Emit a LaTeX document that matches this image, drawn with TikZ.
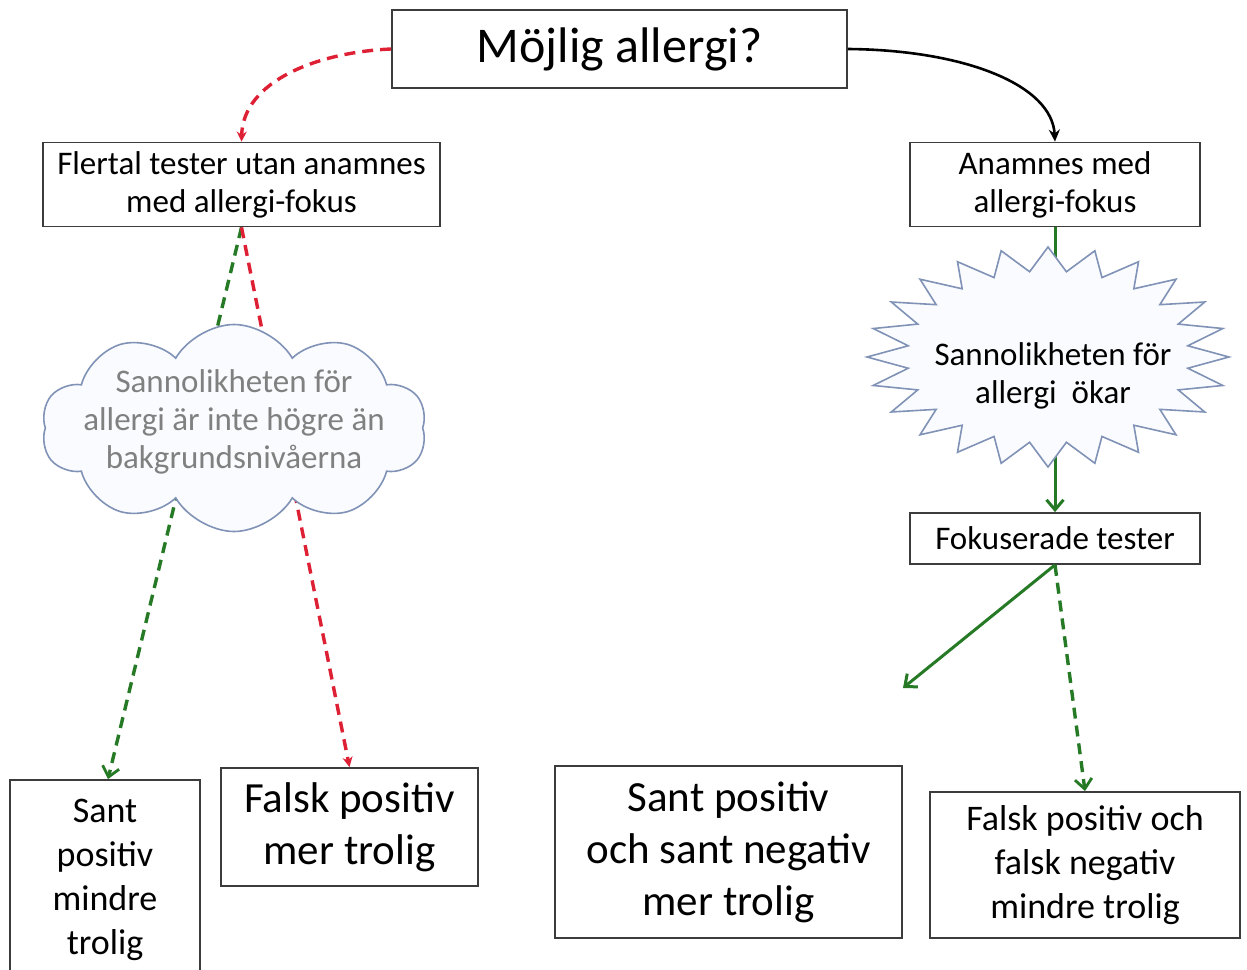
\documentclass[tikz,border=0pt]{standalone}
\usepackage{fontspec}
\setmainfont{Carlito}
\usetikzlibrary{arrows.meta,shapes.symbols}
\definecolor{myred}{RGB}{222,32,52}
\definecolor{mygreen}{RGB}{38,122,38}
\definecolor{edgeblue}{RGB}{128,146,182}
\definecolor{boxline}{RGB}{60,60,60}
\definecolor{cloudtext}{RGB}{128,128,128}
\definecolor{cloudfill}{RGB}{250,251,254}
\begin{document}
\begin{tikzpicture}[x=1pt,y=-1pt,
  box/.style={draw=boxline, line width=1.8pt, fill=white, align=center, inner sep=0pt},
  fA/.style={font=\fontsize{33}{38}\selectfont},
  fB/.style={font=\fontsize{36}{44}\selectfont},
  fC/.style={font=\fontsize{43}{52}\selectfont},
  fT/.style={font=\fontsize{50}{60}\selectfont},
  reddash/.style={draw=myred, line width=3.4pt, dash pattern=on 11pt off 7pt, -{Stealth[length=10pt,width=10pt]}},
  greendash/.style={draw=mygreen, line width=3.4pt, dash pattern=on 11pt off 7pt, -{Straight Barb[length=10pt,width=17pt,line width=2.8pt]}},
  greenline/.style={draw=mygreen, line width=3pt},
  greenarrow/.style={greenline, -{Straight Barb[length=10pt,width=17pt]}},
  blackarrow/.style={draw=black, line width=2.6pt, -{Stealth[length=12pt,width=11pt]}},
  shapeedge/.style={draw=edgeblue, line width=1.6pt, fill=cloudfill}
]
\useasboundingbox (0,0) rectangle (1247,969);
\clip (0,0) rectangle (1247,969);
\fill[white] (0,0) rectangle (1247,969);

% boxes
\node[box, fT, minimum width=455pt, minimum height=78pt] (top) at (619.5,49) {Möjlig allergi?};
\node[box, fA, minimum width=397pt, minimum height=84pt] (left) at (241.5,184.5) {Flertal tester utan anamnes\\med allergi-fokus};
\node[box, fA, minimum width=290pt, minimum height=84pt] (anam) at (1055,184.5) {Anamnes med\\allergi-fokus};
\node[box, fA, minimum width=290pt, minimum height=51pt] (fokus) at (1055,538.5) {Fokuserade tester};
\node[box, fB, minimum width=190pt, minimum height=200pt] (sp) at (105,880) {Sant\\positiv\\mindre\\trolig};
\node[box, fC, minimum width=257pt, minimum height=118pt] (fp) at (349.5,827) {Falsk positiv\\mer trolig};
\node[box, fC, minimum width=347pt, minimum height=172pt] (spsn) at (728.5,852) {Sant positiv\\och sant negativ\\mer trolig};
\node[box, fB, minimum width=310pt, minimum height=146pt] (fpfn) at (1085,865) {Falsk positiv och\\falsk negativ\\mindre trolig};

\coordinate (burstc) at (1048,357);
\coordinate (freeend) at (903,688);

% connectors
\draw[reddash] (top.west) .. controls (320,52) and (243,80) .. (left.north);
\draw[blackarrow] (top.east) .. controls (965,50) and (1052,85) .. (anam.north);
\draw[greendash] (left.south) -- (sp.north -| 108,0);
\draw[reddash] (left.south) -- (fp.north);
\draw[greenline] (anam.south) -- (anam.south |- burstc);
\draw[greenarrow] (anam.south |- burstc) -- (fokus.north);
\draw[greenarrow] (fokus.south) -- (freeend);
\draw[greendash] (fokus.south) -- (fpfn.north);

% cloud
\node[cloud, cloud puffs=10, cloud puff arc=120, cloud ignores aspect, minimum width=385pt, minimum height=207pt, shapeedge] (cloud) at (234,428) {};
\node[fA, text=cloudtext, align=center] (cloudtext) at (234,422) {Sannolikheten för\\allergi är inte högre än\\bakgrundsnivåerna};

% starburst
\draw[shapeedge, shift={(burstc)}] (0:181 and 110)
  \foreach \i in {0,...,23} { -- ({\i*15+7.5}:141 and 86) -- ({\i*15+15}:181 and 110) } -- cycle;
\node[fA, align=center] (bursttext) at (1053,376) {Sannolikheten för\\allergi~ ökar};
\end{tikzpicture}
\end{document}
